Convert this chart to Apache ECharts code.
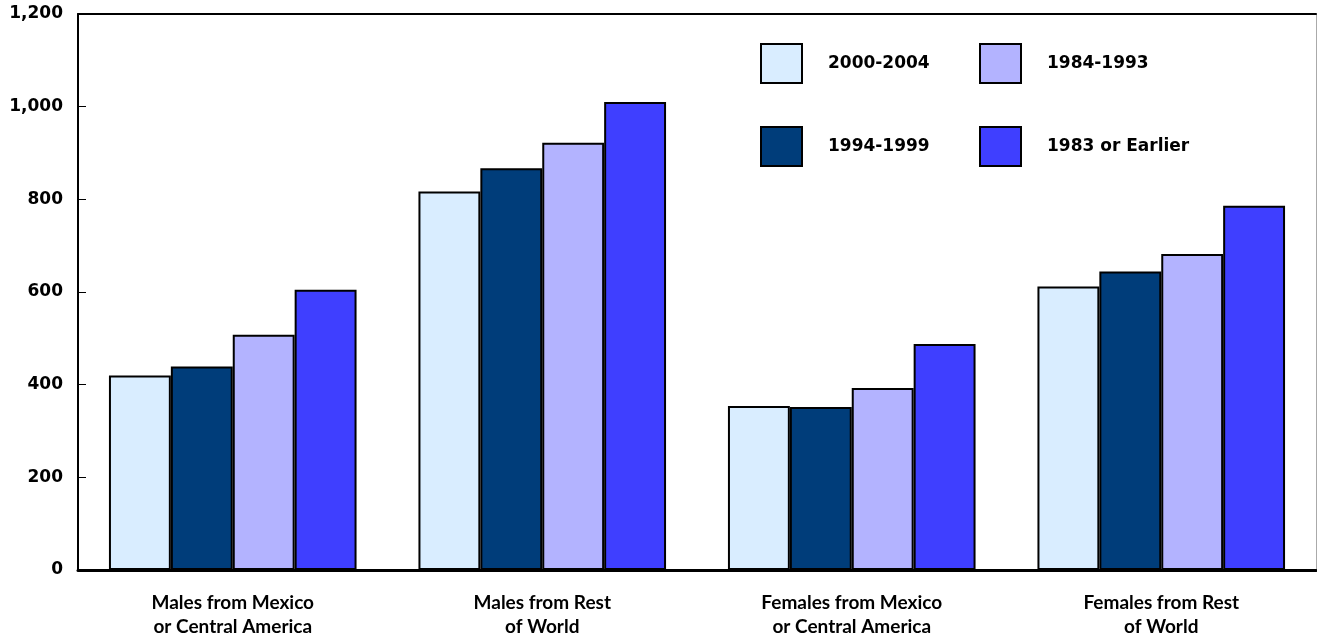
<!DOCTYPE html>
<html>
<head>
<meta charset="utf-8">
<script src="https://cdn.jsdelivr.net/npm/echarts@6/dist/echarts.min.js"></script>
<style>html,body{margin:0;padding:0;background:#fff}#chart{width:1317px;height:639px}</style>
</head>
<body>
<div id="chart"></div>
<script>
const categories = ["Males from Mexico\nor Central America", "Males from Rest\nof World", "Females from Mexico\nor Central America", "Females from Rest\nof World"];
const seriesNames = ["2000-2004", "1994-1999", "1984-1993", "1983 or Earlier"];
const s2000_2004 = [420, 817, 354, 612];
const s1994_1999 = [439, 867, 352, 644];
const s1984_1993 = [508, 922, 393, 682];
const s1983_earlier = [605, 1010, 488, 786];
const colors = ["#d9edff", "#003d7a", "#b3b3ff", "#3f3fff"];

const values = [s2000_2004, s1994_1999, s1984_1993, s1983_earlier];
const chart = echarts.init(document.getElementById('chart'));
const legendPos = [[760, 43], [760, 126], [979, 43], [979, 126]];
const legends = seriesNames.map((n, i) => ({
  data: [n], left: legendPos[i][0], top: legendPos[i][1], padding: 0,
  itemWidth: 41, itemHeight: 39, itemGap: 0,
  icon: 'rect',
  itemStyle: { borderColor: '#000', borderWidth: 2 },
  textStyle: { fontFamily: 'DejaVu Sans', fontWeight: 'bold', fontSize: 17, color: '#000', padding: [0, 0, 0, 21] },
  selectedMode: false
}));
chart.setOption({
  animation: false,
  grid: { left: 78, right: 1, top: 14, bottom: 68, containLabel: false },
  legend: legends,
  xAxis: [{
    type: 'category', data: categories, position: 'bottom',
    axisLine: { lineStyle: { color: '#000', width: 3 } },
    axisTick: { show: false },
    axisLabel: { fontFamily: 'Lato', fontWeight: 'bold', fontSize: 19, color: '#000', lineHeight: 24, margin: 21 }
  }, {
    type: 'category', data: categories, position: 'top',
    axisLine: { show: true, onZero: false, lineStyle: { color: '#000', width: 2 } },
    axisTick: { show: false }, axisLabel: { show: false }
  }],
  yAxis: [{
    type: 'value', min: 0, max: 1200, interval: 200,
    axisLine: { show: true, lineStyle: { color: '#000', width: 2 } },
    axisTick: { show: true, inside: true, length: 8, lineStyle: { color: '#000', width: 1 } },
    splitLine: { show: false },
    axisLabel: { fontFamily: 'DejaVu Sans', fontWeight: 'bold', fontSize: 17, color: '#000', margin: 15,
      formatter: v => v.toLocaleString('en-US') }
  }, {
    type: 'value', min: 0, max: 1200, interval: 200, position: 'right',
    axisLine: { show: true, onZero: false, lineStyle: { color: '#aaa', width: 1 } },
    axisTick: { show: false }, axisLabel: { show: false }, splitLine: { show: false }
  }],
  series: seriesNames.map((n, i) => ({
    name: n, type: 'bar', data: values[i],
    barGap: '0%', barCategoryGap: '20%',
    itemStyle: { color: colors[i], borderColor: '#000', borderWidth: 2 }
  }))
});
</script>
</body>
</html>
